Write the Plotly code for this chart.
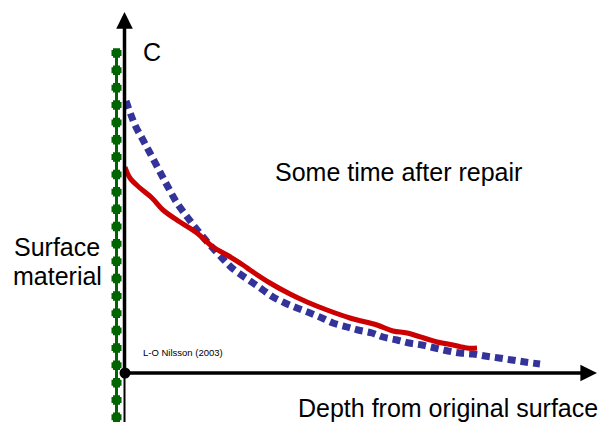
import plotly.graph_objects as go

# Schematic concentration profiles (depth from original surface vs. concentration C)
blue_depth = [1, 10, 18, 25, 35, 43, 52, 63, 73, 85, 98, 107, 128, 138, 148, 160, 172, 185,
              197, 208, 222, 233, 247, 258, 272, 284, 297, 310, 323, 335, 348, 360, 374, 387, 400, 415]
blue_conc = [272, 248, 233, 220, 201, 186, 170, 155, 142, 128, 114, 105, 90, 83, 76, 70, 65, 60,
             55, 50, 46, 43, 40, 36, 33, 30, 28, 25, 22, 20, 19, 17, 15, 13, 11, 9]

red_depth = [0, 5, 15, 27, 38, 55, 72, 88, 102, 118, 125, 145, 165, 182, 202, 225, 252, 268,
             282, 302, 312, 328, 342, 352]
red_conc = [206, 195, 185, 175, 163, 151, 140, 126, 118, 108, 103, 90, 79, 71, 63, 55, 48, 42,
            40, 34, 31, 28, 25, 25]

surface_depth = [-8.5, -8.5]
surface_top = 320
surface_bottom = -55

X_RANGE = [-125, 479]
Y_RANGE = [-49, 373]
FONT = "Liberation Sans, Arial, sans-serif"
GREEN = "#006400"

fig = go.Figure()

# surface material (green beaded line)
fig.add_trace(go.Scatter(x=surface_depth, y=[surface_top, surface_bottom], mode="lines",
                         line=dict(color=GREEN, width=3), hoverinfo="skip"))
fig.add_trace(go.Scatter(x=surface_depth, y=[surface_top + 3, surface_bottom], mode="lines",
                         line=dict(color=GREEN, width=10, dash="6px,11.35px"),
                         hoverinfo="skip"))
fig.add_trace(go.Scatter(x=surface_depth, y=[surface_top + 4.75, surface_bottom], mode="lines",
                         line=dict(color=GREEN, width=7, dash="9.5px,7.85px"),
                         hoverinfo="skip"))

# axis below origin (thin)
fig.add_trace(go.Scatter(x=[-0.5, -0.5], y=[0, -55], mode="lines",
                         line=dict(color="black", width=2), hoverinfo="skip"))

# blue dotted profile
fig.add_trace(go.Scatter(x=blue_depth, y=blue_conc, mode="lines",
                         line=dict(color="#333399", width=7, dash="8px,5px", shape="spline"),
                         hoverinfo="skip"))
# red profile
fig.add_trace(go.Scatter(x=red_depth, y=red_conc, mode="lines",
                         line=dict(color="#CC0000", width=5, shape="spline"),
                         hoverinfo="skip"))

# origin dot
fig.add_trace(go.Scatter(x=[0], y=[0], mode="markers",
                         marker=dict(color="black", size=11), hoverinfo="skip"))

annotations = [
    # axis arrows
    dict(x=-0.5, y=361, ax=-0.5, ay=0, xref="x", yref="y", axref="x", ayref="y",
         text="", showarrow=True, arrowhead=2, arrowsize=0.95, arrowwidth=3.5,
         arrowcolor="black", standoff=0),
    dict(x=472, y=0, ax=0, ay=0, xref="x", yref="y", axref="x", ayref="y",
         text="", showarrow=True, arrowhead=2, arrowsize=0.95, arrowwidth=3.5,
         arrowcolor="black", standoff=0),
    dict(x=16, y=373 - 51.5, text="C", xanchor="left", yanchor="middle"),
    dict(x=148, y=373 - 171.5, text="Some time after repair", xanchor="left", yanchor="middle"),
    dict(x=-68, y=373 - 246.5, text="Surface", xanchor="center", yanchor="middle"),
    dict(x=-68, y=373 - 275.5, text="material", xanchor="center", yanchor="middle"),
    dict(x=171, y=373 - 408, text="Depth from original surface", xanchor="left", yanchor="middle"),
    dict(x=16, y=373 - 352.5, text="L-O Nilsson (2003)", xanchor="left", yanchor="middle",
         font=dict(size=9.5)),
]
for a in annotations:
    a.setdefault("showarrow", False)
    a.setdefault("xref", "x")
    a.setdefault("yref", "y")
    a.setdefault("font", dict(size=25))
    a["font"] = dict(family=FONT, color="black", **a["font"])
    fig.add_annotation(**a)

fig.update_layout(
    width=604, height=422,
    margin=dict(l=0, r=0, t=0, b=0),
    paper_bgcolor="white", plot_bgcolor="white",
    showlegend=False,
    xaxis=dict(range=X_RANGE, visible=False, fixedrange=True),
    yaxis=dict(range=Y_RANGE, visible=False, fixedrange=True),
)

fig.write_html("out.html", config={"displayModeBar": False},
               post_script="document.body.style.margin='0';document.body.style.overflow='hidden';")
